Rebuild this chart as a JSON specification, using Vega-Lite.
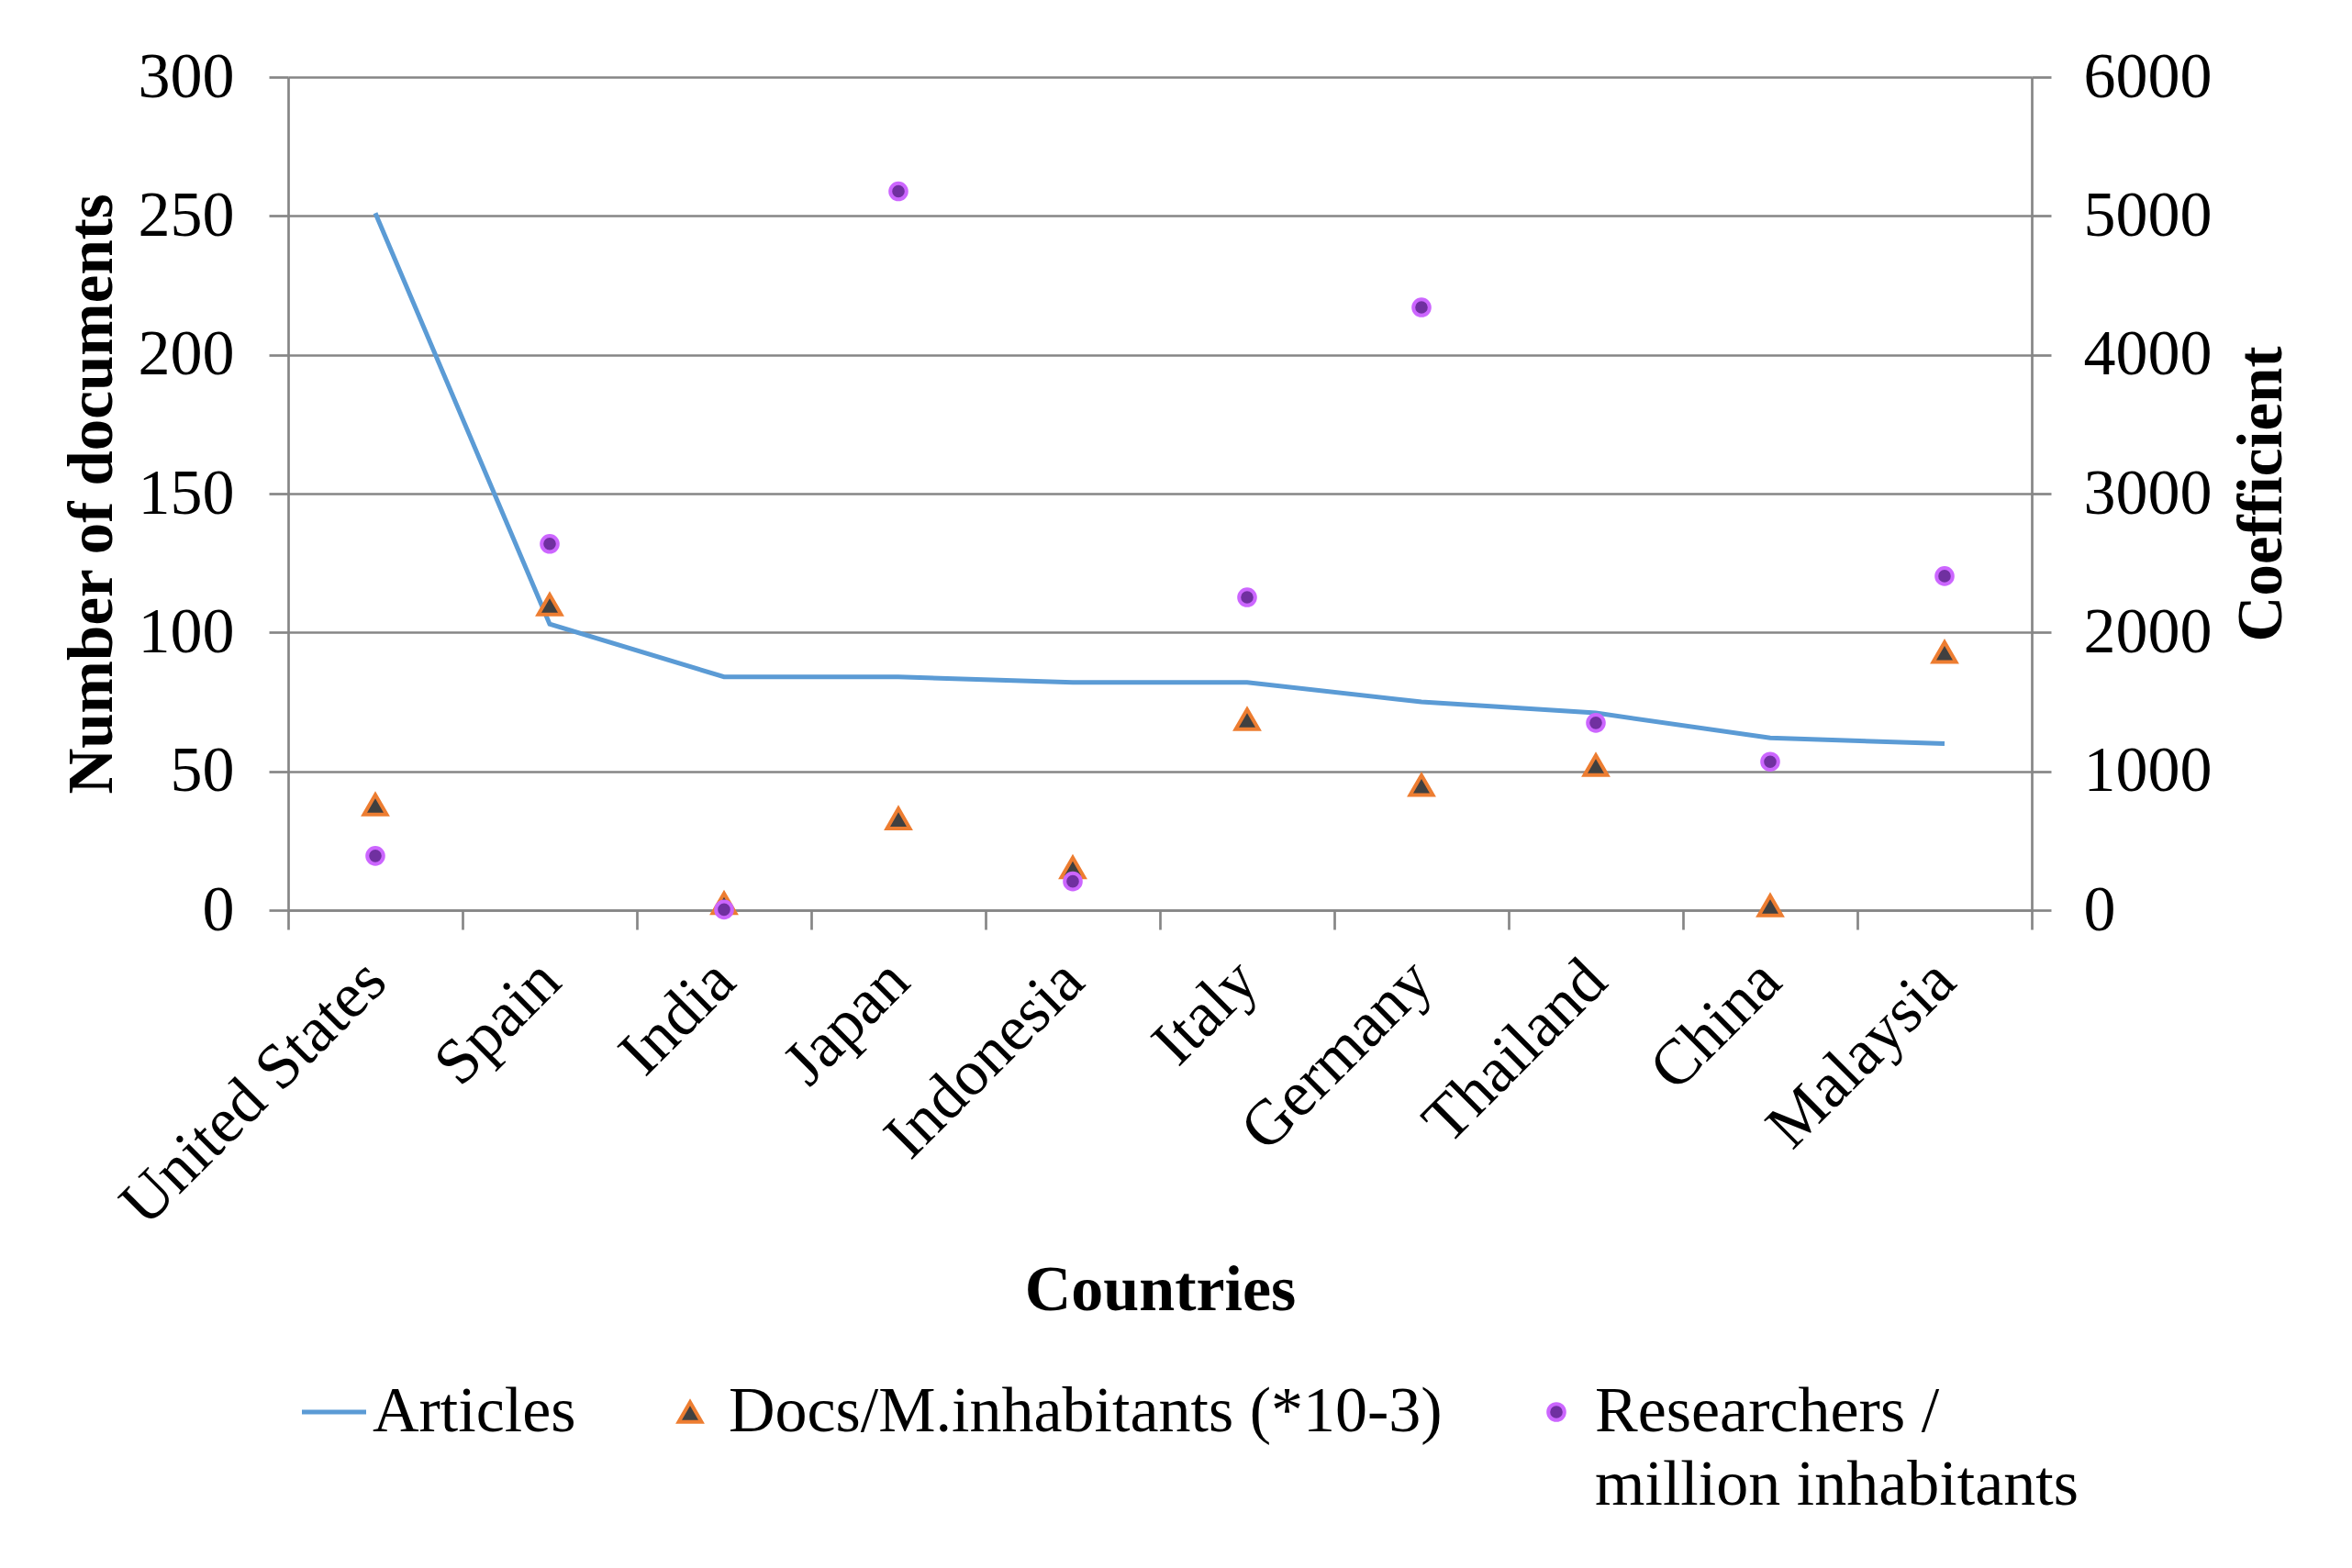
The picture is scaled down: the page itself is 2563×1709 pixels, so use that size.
{
  "$schema": "https://vega.github.io/schema/vega-lite/v6.json",
  "width": 1900,
  "height": 908,
  "autosize": {"type": "none"},
  "padding": {"left": 314, "top": 84, "right": 349, "bottom": 717},
  "background": "white",
  "config": {
    "font": "Liberation Serif",
    "view": {"stroke": null},
    "axis": {
      "labelFont": "Liberation Serif",
      "titleFont": "Liberation Serif",
      "labelColor": "#000000",
      "titleColor": "#000000",
      "domainColor": "#868686",
      "tickColor": "#868686",
      "gridColor": "#868686",
      "domainWidth": 2.7,
      "tickWidth": 2.7,
      "gridWidth": 2.7,
      "tickSize": 21,
      "labelFontSize": 70,
      "labelLimit": 3000,
      "titleFontSize": 69,
      "titleFontWeight": "bold"
    }
  },
  "data": {
    "values": [
      {"country": "United States", "series": "Articles", "value": 251},
      {"country": "Spain", "series": "Articles", "value": 103},
      {"country": "India", "series": "Articles", "value": 84},
      {"country": "Japan", "series": "Articles", "value": 84},
      {"country": "Indonesia", "series": "Articles", "value": 82},
      {"country": "Italy", "series": "Articles", "value": 82},
      {"country": "Germany", "series": "Articles", "value": 75},
      {"country": "Thailand", "series": "Articles", "value": 71},
      {"country": "China", "series": "Articles", "value": 62},
      {"country": "Malaysia", "series": "Articles", "value": 60},
      {"country": "United States", "series": "Docs/M.inhabitants (*10-3)", "value": 760},
      {"country": "Spain", "series": "Docs/M.inhabitants (*10-3)", "value": 2200},
      {"country": "India", "series": "Docs/M.inhabitants (*10-3)", "value": 49},
      {"country": "Japan", "series": "Docs/M.inhabitants (*10-3)", "value": 660},
      {"country": "Indonesia", "series": "Docs/M.inhabitants (*10-3)", "value": 307},
      {"country": "Italy", "series": "Docs/M.inhabitants (*10-3)", "value": 1375},
      {"country": "Germany", "series": "Docs/M.inhabitants (*10-3)", "value": 900},
      {"country": "Thailand", "series": "Docs/M.inhabitants (*10-3)", "value": 1044},
      {"country": "China", "series": "Docs/M.inhabitants (*10-3)", "value": 33},
      {"country": "Malaysia", "series": "Docs/M.inhabitants (*10-3)", "value": 1858},
      {"country": "United States", "series": "Researchers / million inhabitants", "value": 391},
      {"country": "Spain", "series": "Researchers / million inhabitants", "value": 2638},
      {"country": "India", "series": "Researchers / million inhabitants", "value": 4},
      {"country": "Japan", "series": "Researchers / million inhabitants", "value": 5177},
      {"country": "Indonesia", "series": "Researchers / million inhabitants", "value": 207},
      {"country": "Italy", "series": "Researchers / million inhabitants", "value": 2253},
      {"country": "Germany", "series": "Researchers / million inhabitants", "value": 4341},
      {"country": "Thailand", "series": "Researchers / million inhabitants", "value": 1349},
      {"country": "China", "series": "Researchers / million inhabitants", "value": 1069},
      {"country": "Malaysia", "series": "Researchers / million inhabitants", "value": 2406}
    ]
  },
  "encoding": {
    "x": {
      "field": "country",
      "type": "nominal",
      "sort": null,
      "scale": {"paddingInner": 0, "paddingOuter": 0},
      "axis": {
        "title": "Countries",
        "titleFontSize": 70,
        "titleBaseline": "alphabetic",
        "titleY": 435,
        "labelAngle": -45,
        "labelAlign": "right",
        "labelBaseline": "middle",
        "labelPadding": 45,
        "labelLimit": 3000,
        "labelOverlap": false,
        "tickBand": "extent",
        "grid": false
      }
    }
  },
  "layer": [
    {
      "transform": [{"filter": "datum.series === 'Articles'"}],
      "mark": {"type": "line", "strokeWidth": 5},
      "encoding": {
        "y": {
          "field": "value",
          "type": "quantitative",
          "scale": {"domain": [0, 300]},
          "axis": {
            "title": "Number of documents",
            "values": [0, 50, 100, 150, 200, 250, 300],
            "grid": true,
            "labelPadding": 38,
            "titlePadding": 15
          }
        },
        "color": {
          "field": "series",
          "type": "nominal",
          "scale": {
            "domain": ["Articles", "Docs/M.inhabitants (*10-3)", "Researchers / million inhabitants"],
            "range": ["#5B9BD5", "#ED7D31", "#CC66FF"]
          },
          "legend": {
            "title": null,
            "orient": "none",
            "direction": "horizontal",
            "legendX": 15,
            "legendY": 1420,
            "labelFont": "Liberation Serif",
            "labelFontSize": 70,
            "labelColor": "#000000",
            "labelLimit": 3000,
            "labelOffset": 7,
            "columnPadding": 89,
            "symbolSize": 4900,
            "symbolType": "stroke",
            "labelExpr": "datum.label === 'Researchers / million inhabitants' ? ['Researchers /', 'million inhabitants'] : [datum.label, ' ']",
            "encode": {
              "symbols": {
                "update": {
                  "shape": {"signal": "datum.value === 'Articles' ? 'stroke' : (datum.value === 'Researchers / million inhabitants' ? 'circle' : 'triangle-up')"},
                  "fill": {"signal": "datum.value === 'Articles' ? 'transparent' : (datum.value === 'Researchers / million inhabitants' ? '#7030A0' : '#404040')"},
                  "stroke": {"signal": "datum.value === 'Articles' ? '#5B9BD5' : (datum.value === 'Researchers / million inhabitants' ? '#CC66FF' : '#ED7D31')"},
                  "size": {"signal": "datum.value === 'Articles' ? 4900 : (datum.value === 'Researchers / million inhabitants' ? 310 : 620)"},
                  "strokeWidth": {"signal": "datum.value === 'Articles' ? 5 : 4"},
                  "opacity": {"value": 1}
                }
              },
              "labels": {
                "update": {
                  "lineHeight": {"value": 80}
                }
              }
            }
          }
        }
      }
    },
    {
      "encoding": {
        "y": {
          "field": "value",
          "type": "quantitative",
          "scale": {"domain": [0, 6000]},
          "axis": {
            "orient": "right",
            "title": "Coefficient",
            "values": [0, 1000, 2000, 3000, 4000, 5000, 6000],
            "format": "d",
            "grid": false,
            "labelPadding": 35,
            "titlePadding": 20,
            "titleAngle": 270,
            "titleBaseline": "top"
          }
        }
      },
      "layer": [
        {
          "transform": [{"filter": "datum.series === 'Docs/M.inhabitants (*10-3)'"}],
          "mark": {"type": "point", "shape": "triangle-up", "filled": true, "fill": "#404040", "stroke": "#ED7D31", "strokeWidth": 4, "size": 620, "opacity": 1}
        },
        {
          "transform": [{"filter": "datum.series === 'Researchers / million inhabitants'"}],
          "mark": {"type": "point", "shape": "circle", "filled": true, "fill": "#7030A0", "stroke": "#CC66FF", "strokeWidth": 4, "size": 310, "opacity": 1}
        }
      ]
    }
  ],
  "resolve": {"scale": {"y": "independent"}}
}
